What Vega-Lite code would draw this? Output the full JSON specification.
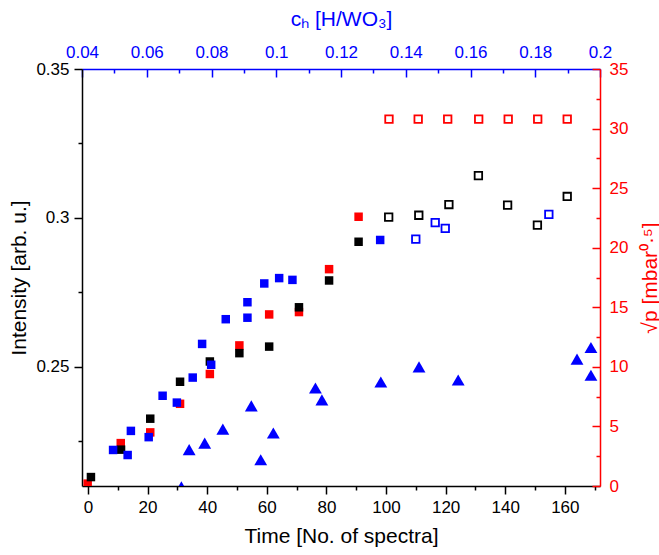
{
  "$schema": "https://vega.github.io/schema/vega-lite/v6.json",
  "width": 518,
  "height": 417,
  "autosize": {"type": "none"},
  "padding": {"left": 82, "top": 69, "right": 59, "bottom": 69},
  "background": "white",
  "config": {
    "view": {"stroke": null},
    "font": "Liberation Sans",
    "axis": {
      "grid": false,
      "labelFontSize": 17,
      "titleFontSize": 21,
      "titleFontWeight": "normal",
      "labelFont": "Liberation Sans",
      "titleFont": "Liberation Sans",
      "domainWidth": 1.5,
      "tickWidth": 1.5,
      "labelOverlap": false,
      "labelFlush": false
    }
  },
  "resolve": {
    "scale": {"x": "independent", "y": "independent"},
    "axis": {"x": "independent", "y": "independent"}
  },
  "layer": [
    {
      "data": {"values": [
        {"t": -0.1, "s": 0.2},
        {"t": 11.0, "s": 3.6},
        {"t": 20.9, "s": 4.5},
        {"t": 30.9, "s": 6.9},
        {"t": 40.9, "s": 9.4},
        {"t": 50.8, "s": 11.8},
        {"t": 60.8, "s": 14.4},
        {"t": 70.8, "s": 14.6},
        {"t": 80.9, "s": 18.2},
        {"t": 90.8, "s": 22.6}
      ]},
      "mark": {"type": "point", "shape": "square", "filled": true, "size": 72, "color": "#ff0000", "opacity": 1, "clip": true},
      "encoding": {
        "x": {"field": "t", "type": "quantitative", "scale": {"domain": [-2, 171.8], "nice": false, "zero": false}, "axis": null},
        "y": {"field": "s", "type": "quantitative", "scale": {"domain": [0, 35], "nice": false, "zero": false},
          "axis": {
            "orient": "right",
            "title": "√p [mbar⁰·⁵]",
            "titleAngle": 270,
            "titleX": 50,
            "titleY": 208.5,
            "titleAlign": "center",
            "titleBaseline": "middle",
            "titleColor": "#ff0000",
            "labelColor": "#ff0000",
            "domainColor": "#ff0000",
            "tickColor": "#ff0000",
            "values": [0, 2.5, 5, 7.5, 10, 12.5, 15, 17.5, 20, 22.5, 25, 27.5, 30, 32.5, 35],
            "labelExpr": "datum.value % 5 === 0 ? format(datum.value, '~g') : ''",
            "tickSize": {"condition": {"test": "datum.value % 5 === 0", "value": -8}, "value": -4},
            "labelPadding": 17
          }
        }
      }
    },
    {
      "data": {"values": [
        {"t": 101.0, "s": 30.8},
        {"t": 110.8, "s": 30.8},
        {"t": 120.7, "s": 30.8},
        {"t": 131.1, "s": 30.8},
        {"t": 141.0, "s": 30.8},
        {"t": 150.9, "s": 30.8},
        {"t": 160.8, "s": 30.8}
      ]},
      "mark": {"type": "point", "shape": "square", "filled": false, "size": 56, "strokeWidth": 1.8, "color": "#ff0000", "opacity": 1},
      "encoding": {
        "x": {"field": "t", "type": "quantitative", "scale": {"domain": [-2, 171.8], "nice": false, "zero": false}, "axis": null},
        "y": {"field": "s", "type": "quantitative", "scale": {"domain": [0, 35], "nice": false, "zero": false}, "axis": null}
      }
    },
    {
      "data": {"values": [
        {"t": 1.0, "i": 0.2130},
        {"t": 11.1, "i": 0.2222},
        {"t": 20.9, "i": 0.2326},
        {"t": 30.9, "i": 0.2450},
        {"t": 40.9, "i": 0.2518},
        {"t": 50.8, "i": 0.2546},
        {"t": 60.8, "i": 0.2568},
        {"t": 70.8, "i": 0.2700},
        {"t": 80.9, "i": 0.2790},
        {"t": 90.8, "i": 0.2920}
      ]},
      "mark": {"type": "point", "shape": "square", "filled": true, "size": 72, "color": "#000000", "opacity": 1},
      "encoding": {
        "x": {"field": "t", "type": "quantitative", "scale": {"domain": [-2, 171.8], "nice": false, "zero": false},
          "axis": {
            "orient": "bottom",
            "title": "Time [No. of spectra]",
            "titleColor": "#000000",
            "labelColor": "#000000",
            "domainColor": "#000000",
            "tickColor": "#000000",
            "values": [0, 10, 20, 30, 40, 50, 60, 70, 80, 90, 100, 110, 120, 130, 140, 150, 160, 170],
            "labelExpr": "datum.value % 20 === 0 ? format(datum.value, '~g') : ''",
            "tickSize": {"condition": {"test": "datum.value % 20 === 0", "value": 8}, "value": 4},
            "labelPadding": 5,
            "titlePadding": 10
          }
        },
        "y": {"field": "i", "type": "quantitative", "scale": {"domain": [0.21, 0.35], "nice": false, "zero": false},
          "axis": {
            "orient": "left",
            "title": "Intensity [arb. u.]",
            "titleColor": "#000000",
            "labelColor": "#000000",
            "domainColor": "#000000",
            "tickColor": "#000000",
            "values": [0.225, 0.25, 0.275, 0.3, 0.325, 0.35],
            "labelExpr": "abs(datum.value * 20 - round(datum.value * 20)) < 0.01 ? format(datum.value, '~g') : ''",
            "tickSize": {"condition": {"test": "abs(datum.value * 20 - round(datum.value * 20)) < 0.01", "value": 8}, "value": 4},
            "labelPadding": 5,
            "titlePadding": 6
          }
        }
      }
    },
    {
      "data": {"values": [
        {"t": 100.9, "i": 0.3003},
        {"t": 111.0, "i": 0.3009},
        {"t": 121.1, "i": 0.3045},
        {"t": 131.0, "i": 0.3142},
        {"t": 140.8, "i": 0.3043},
        {"t": 150.8, "i": 0.2976},
        {"t": 160.8, "i": 0.3072}
      ]},
      "mark": {"type": "point", "shape": "square", "filled": false, "size": 56, "strokeWidth": 1.8, "color": "#000000", "opacity": 1},
      "encoding": {
        "x": {"field": "t", "type": "quantitative", "scale": {"domain": [-2, 171.8], "nice": false, "zero": false}, "axis": null},
        "y": {"field": "i", "type": "quantitative", "scale": {"domain": [0.21, 0.35], "nice": false, "zero": false}, "axis": null}
      }
    },
    {
      "data": {"values": [
        {"c": 0.0496, "i": 0.2221},
        {"c": 0.0541, "i": 0.2204},
        {"c": 0.0551, "i": 0.2285},
        {"c": 0.0606, "i": 0.2264},
        {"c": 0.0649, "i": 0.2403},
        {"c": 0.0693, "i": 0.2380},
        {"c": 0.0742, "i": 0.2464},
        {"c": 0.0771, "i": 0.2577},
        {"c": 0.0799, "i": 0.2507},
        {"c": 0.0844, "i": 0.2660},
        {"c": 0.0911, "i": 0.2717},
        {"c": 0.0911, "i": 0.2665},
        {"c": 0.0963, "i": 0.2780},
        {"c": 0.1009, "i": 0.2798},
        {"c": 0.1050, "i": 0.2792},
        {"c": 0.1321, "i": 0.2926}
      ]},
      "mark": {"type": "point", "shape": "square", "filled": true, "size": 72, "color": "#0000ff", "opacity": 1},
      "encoding": {
        "x": {"field": "c", "type": "quantitative", "scale": {"domain": [0.04, 0.2], "nice": false, "zero": false},
          "axis": {
            "orient": "top",
            "title": "cₕ [H/WO₃]",
            "titleColor": "#0000ff",
            "labelColor": "#0000ff",
            "domainColor": "#0000ff",
            "tickColor": "#0000ff",
            "values": [0.04, 0.05, 0.06, 0.07, 0.08, 0.09, 0.1, 0.11, 0.12, 0.13, 0.14, 0.15, 0.16, 0.17, 0.18, 0.19, 0.2],
            "labelExpr": "abs(datum.value * 50 - round(datum.value * 50)) < 0.01 ? format(datum.value, '~g') : ''",
            "tickSize": {"condition": {"test": "abs(datum.value * 50 - round(datum.value * 50)) < 0.01", "value": -8}, "value": -4},
            "labelPadding": 16,
            "titlePadding": 10
          }
        },
        "y": {"field": "i", "type": "quantitative", "scale": {"domain": [0.21, 0.35], "nice": false, "zero": false}, "axis": null}
      }
    },
    {
      "data": {"values": [
        {"c": 0.1431, "i": 0.2929},
        {"c": 0.1491, "i": 0.2984},
        {"c": 0.1522, "i": 0.2965},
        {"c": 0.1842, "i": 0.3012}
      ]},
      "mark": {"type": "point", "shape": "square", "filled": false, "size": 56, "strokeWidth": 1.8, "color": "#0000ff", "opacity": 1},
      "encoding": {
        "x": {"field": "c", "type": "quantitative", "scale": {"domain": [0.04, 0.2], "nice": false, "zero": false}, "axis": null},
        "y": {"field": "i", "type": "quantitative", "scale": {"domain": [0.21, 0.35], "nice": false, "zero": false}, "axis": null}
      }
    },
    {
      "data": {"values": [
        {"c": 0.0707, "i": 0.2097},
        {"c": 0.0731, "i": 0.2222},
        {"c": 0.0779, "i": 0.2244},
        {"c": 0.0835, "i": 0.2291},
        {"c": 0.0923, "i": 0.2369},
        {"c": 0.0952, "i": 0.2188},
        {"c": 0.0991, "i": 0.2278},
        {"c": 0.1121, "i": 0.2429},
        {"c": 0.1141, "i": 0.2389},
        {"c": 0.1323, "i": 0.2449},
        {"c": 0.1441, "i": 0.2500},
        {"c": 0.1562, "i": 0.2456},
        {"c": 0.1929, "i": 0.2526},
        {"c": 0.1972, "i": 0.2565},
        {"c": 0.1972, "i": 0.2472}
      ]},
      "mark": {"type": "point", "shape": "triangle-up", "filled": true, "size": 165, "color": "#0000ff", "opacity": 1, "clip": true},
      "encoding": {
        "x": {"field": "c", "type": "quantitative", "scale": {"domain": [0.04, 0.2], "nice": false, "zero": false}, "axis": null},
        "y": {"field": "i", "type": "quantitative", "scale": {"domain": [0.21, 0.35], "nice": false, "zero": false}, "axis": null}
      }
    }
  ]
}
